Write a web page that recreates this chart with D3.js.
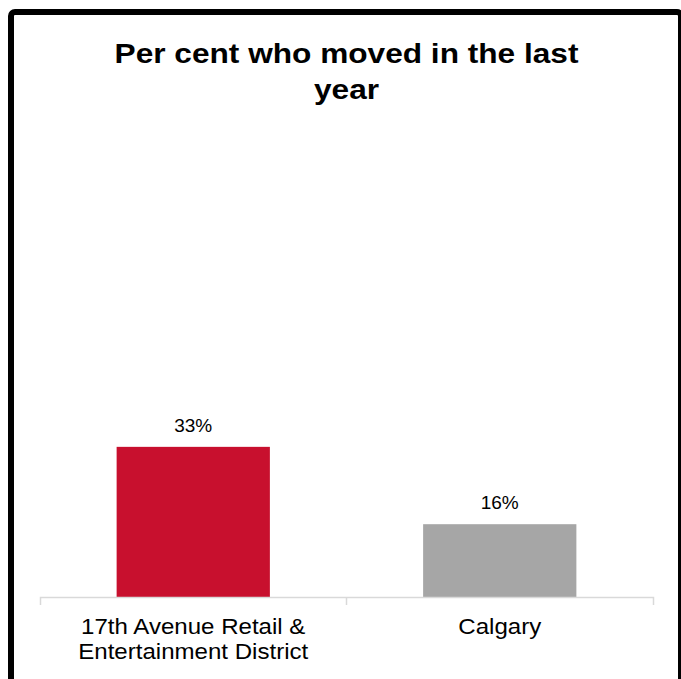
<!DOCTYPE html>
<html>
<head>
<meta charset="utf-8">
<script src="https://cdn.jsdelivr.net/npm/d3@7"></script>
<style>
  body { margin: 0; background: #fff; }
  text { font-family: Arial, "Liberation Sans", sans-serif; fill: #000; }
</style>
</head>
<body>
<div id="chart"></div>
<script>
const categories = ["17th Avenue Retail & Entertainment District", "Calgary"]
const categoryLines = [["17th Avenue Retail &", "Entertainment District"], ["Calgary"]]
const values = [0.33, 0.16]
const barColors = ["#C8102E", "#A6A6A6"]
const titleLines = ["Per cent who moved in the last", "year"]

const width = 681
const height = 679
const margin = { top: 142, bottom: 82, left: 40, right: 28 }

const svg = d3.select("#chart")
    .append("svg")
    .attr("width", width)
    .attr("height", height)

svg.append("rect")
    .attr("width", width)
    .attr("height", height)
    .attr("fill", "#fff")

// frame (bottom and right edges run off the picture)
svg.append("rect")
    .attr("x", 11)
    .attr("y", 12)
    .attr("width", 670)
    .attr("height", 720)
    .attr("rx", 4)
    .attr("fill", "none")
    .attr("stroke", "#000")
    .attr("stroke-width", 6)

const xScale = d3.scaleBand()
    .domain(categories)
    .range([margin.left, width - margin.right])
    .paddingInner(0.5)
    .paddingOuter(0.25)

const yScale = d3.scaleLinear()
    .domain([0, 1])
    .range([height - margin.bottom, margin.top])

// title
const title = svg.append("text")
    .attr("text-anchor", "middle")
    .attr("transform", `translate(${(margin.left + width - margin.right) / 2},0) scale(1.13,1)`)
    .style("font-size", "28px")
    .style("font-weight", "bold")
title.selectAll("tspan")
    .data(titleLines)
    .join("tspan")
    .attr("x", 0)
    .attr("y", (d, i) => 63 + i * 36)
    .text(d => d)

// bars
svg.append("g")
    .selectAll("rect")
    .data(values)
    .join("rect")
    .attr("x", (d, i) => xScale(categories[i]))
    .attr("y", d => yScale(d))
    .attr("width", xScale.bandwidth())
    .attr("height", d => yScale(0) - yScale(d))
    .attr("fill", (d, i) => barColors[i])

// value labels
svg.append("g")
    .selectAll("text")
    .data(values)
    .join("text")
    .attr("text-anchor", "middle")
    .attr("transform", (d, i) => `translate(${xScale(categories[i]) + xScale.bandwidth() / 2},${yScale(d) - 15})`)
    .style("font-size", "19px")
    .text(d => d3.format(".0%")(d))

// axis: line with ticks at category boundaries
const xAxis = d3.axisBottom(xScale)
    .tickSize(0)
    .tickSizeOuter(8)
    .tickFormat("")
const axisG = svg.append("g")
    .attr("transform", `translate(0,${yScale(0)})`)
    .call(xAxis)
axisG.select(".domain").attr("stroke", "#d9d9d9").attr("stroke-width", 1.5)
axisG.selectAll(".tick").remove()
axisG.selectAll("line.sep")
    .data(categories.slice(1))
    .join("line")
    .attr("class", "sep")
    .attr("x1", d => xScale(d) - xScale.step() * xScale.paddingInner() / 2)
    .attr("x2", d => xScale(d) - xScale.step() * xScale.paddingInner() / 2)
    .attr("y1", 0)
    .attr("y2", 8)
    .attr("stroke", "#d9d9d9")
    .attr("stroke-width", 1.5)

// category labels
const labels = svg.append("g")
    .selectAll("text")
    .data(categories)
    .join("text")
    .attr("text-anchor", "middle")
    .attr("transform", d => `translate(${xScale(d) + xScale.bandwidth() / 2},0) scale(1.12,1)`)
    .style("font-size", "21.5px")
labels.selectAll("tspan")
    .data((d, i) => categoryLines[i])
    .join("tspan")
    .attr("x", 0)
    .attr("y", (d, i) => 634 + i * 25)
    .text(d => d)
</script>
</body>
</html>
